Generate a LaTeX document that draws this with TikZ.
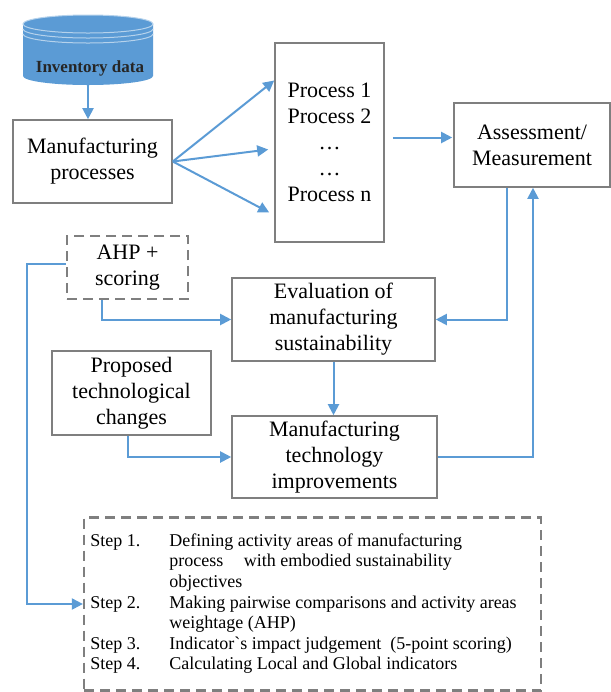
\documentclass[tikz,border=0pt]{standalone}
\usepackage{fontspec}
\setmainfont{Liberation Serif}
\usetikzlibrary{calc}
\usetikzlibrary{shadows}
\usetikzlibrary{arrows.meta}
\definecolor{flowblue}{HTML}{5B9BD5}
\definecolor{boxgray}{HTML}{7F7F7F}
\tikzset{
    box/.style={draw=boxgray, line width=0.8pt, fill=white, align=center, inner sep=2pt,
        font=\fontsize{11}{13}\selectfont,
        drop shadow={shadow xshift=0.7pt, shadow yshift=-0.7pt, opacity=0.2}},
    dashbox/.style={draw=boxgray, line width=1.1pt, dash pattern=on 5pt off 3pt,
        fill=white, align=center, inner sep=2pt, font=\fontsize{11}{13}\selectfont},
    arr/.style={draw=flowblue, line width=1pt, -{Triangle[length=5.5pt,width=5.5pt]}},
}
\begin{document}
\begin{tikzpicture}[x=0.5pt, y=-0.5pt]
            \useasboundingbox (0,0) rectangle (611,692);

            \fill[flowblue] (23,24) -- (23,76) arc[start angle=180, end angle=0, x radius=65, y radius=9]
                -- (153,24) arc[start angle=0, end angle=-180, x radius=65, y radius=9] -- cycle;
            \draw[white!55!flowblue, line width=0.5pt] (88,24) ellipse [x radius=65, y radius=9];
            \draw[white!55!flowblue, line width=0.5pt] (23,29) arc[start angle=180, end angle=0, x radius=65, y radius=9];
            \draw[white!55!flowblue, line width=0.5pt] (23,34) arc[start angle=180, end angle=0, x radius=65, y radius=9];
            \node[font=\bfseries\fontsize{8.5}{10}\selectfont, text=black!85] (invtext) at (90,68) {Inventory data};
            \coordinate (inv) at (88,85);

            \node[box, minimum width=79.5pt, minimum height=41.5pt] (mfg) at (92.5,161.5) {Manufacturing\\processes};
            \node[box, minimum width=54.5pt, minimum height=99.5pt] (procs) at (329.5,142.5) {Process 1\\Process 2\\\dots\\\dots\\Process n};
            \node[box, minimum width=78pt, minimum height=42pt] (assess) at (532,145) {Assessment/\\Measurement};
            \node[dashbox, minimum width=60.5pt, minimum height=31.5pt] (ahp) at (127.5,267.5) {AHP +\\scoring};
            \node[box, minimum width=101.5pt, minimum height=41.5pt] (eval) at (333.5,319.5) {Evaluation of\\manufacturing\\sustainability};
            \node[box, minimum width=79.5pt, minimum height=42pt] (prop) at (131.5,393) {Proposed\\technological\\changes};
            \node[box, minimum width=102.5pt, minimum height=41pt] (impr) at (334.5,457) {Manufacturing\\technology\\improvements};
            \node[dashbox, minimum width=228.5pt, minimum height=86.5pt] (steps) at (312.5,604) {};
            \node[anchor=west, inner sep=0pt, font=\fontsize{9}{10.3}\selectfont] (steplist) at ($(steps.west)+(7,0)$) {%
                \begin{tabular}{@{}p{39.5pt}@{}l@{}}
                Step 1. & Defining activity areas of manufacturing\\
                        & process\hspace{8pt} with embodied sustainability\\
                        & objectives\\
                Step 2. & Making pairwise comparisons and activity areas\\
                        & weightage (AHP)\\
                Step 3. & Indicator\textasciigrave s impact judgement\ \ (5-point scoring)\\
                Step 4. & Calculating Local and Global indicators
                \end{tabular}};

            \draw[arr] (inv) -- (inv |- mfg.north);
            \draw[arr] (mfg.east) -- ($(procs.west)+(0,-62)$);
            \draw[arr] (mfg.east) -- ($(procs.west)+(-6,7)$);
            \draw[arr] (mfg.east) -- ($(procs.west)+(-5,70)$);
            \draw[arr] ($(procs.east)+(8,-5)$) -- ($(procs.east -| assess.west)+(-1,-5)$);
            \draw[arr] ($(assess.south)+(-25,0)$) |- (eval.east);
            \draw[arr] (impr.east) -| ($(assess.south)+(1,0)$);
            \draw[arr] ($(ahp.west)+(0,-4)$) -- ++(-39,0) |- (steps.west);
            \draw[arr] ($(ahp.south)+(-26,0)$) |- (eval.west);
            \draw[arr] (eval.south) -- (eval.south |- impr.north);
            \draw[arr] ($(prop.south)+(-4,0)$) |- (impr.west);
\end{tikzpicture}
\end{document}
